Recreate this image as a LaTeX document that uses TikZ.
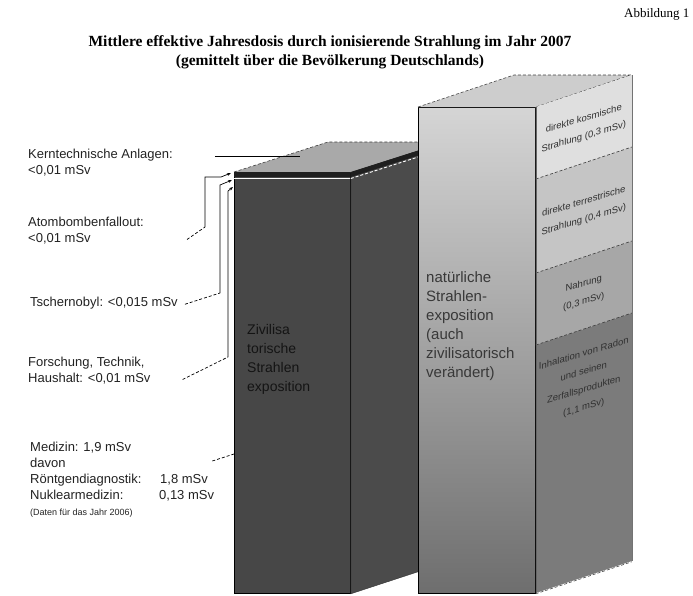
\documentclass[tikz,border=0pt]{standalone}
\usepackage{fontspec}
\setmainfont{Liberation Serif}
\setsansfont{Liberation Sans}
\usetikzlibrary{arrows.meta, positioning}

\definecolor{zivilfront}{HTML}{474747}
\definecolor{zivilside}{HTML}{4B4B4B}
\definecolor{ziviltop}{HTML}{A9A9A9}
\definecolor{naturtop}{HTML}{CDCDCD}
\definecolor{naturhigh}{HTML}{D5D5D5}
\definecolor{naturlow}{HTML}{6E6E6E}
\definecolor{bandA}{HTML}{DFDFDF}
\definecolor{bandB}{HTML}{C5C5C5}
\definecolor{bandC}{HTML}{A7A7A7}
\definecolor{bandD}{HTML}{7B7B7B}
\definecolor{labelgray}{HTML}{222222}
\definecolor{bandtext}{HTML}{303030}

\begin{document}
\begin{tikzpicture}[
    x=1pt, y=-1pt,
    lbl/.style={anchor=north west, inner sep=0pt, align=left, text=labelgray,
        font=\sffamily\fontsize{13}{16}\selectfont},
    leader/.style={densely dashed, line width=0.7pt},
    pointer/.style={line width=0.7pt, -{Stealth[length=4pt,width=3pt]}},
    rim/.style={densely dashed, line width=0.6pt, draw=black!75},
    band/.style={inner sep=0pt, align=center, yslant=0.3, text=bandtext,
        font=\sffamily\fontsize{9.5}{18}\selectfont},
    block/.style={anchor=north west, inner sep=0pt, draw=black, line width=0.8pt}
    ]
    \useasboundingbox (0,0) rectangle (693,595);

    % Title
    \node[font=\bfseries\fontsize{15.5}{19}\selectfont, align=center] (title) at (330,52)
        {Mittlere effektive Jahresdosis durch ionisierende Strahlung im Jahr 2007\\
         (gemittelt über die Bevölkerung Deutschlands)};
    \node[anchor=east, font=\fontsize{13}{15}\selectfont] (fig) at (693,14) {Abbildung 1};

    % Zivilisatorische Strahlenexposition
    \node[block, fill=zivilfront, minimum width=116pt, minimum height=421pt] (zivil) at (234,172) {};
    \filldraw[fill=zivilside, draw=black!80, line width=0.4pt]
        (zivil.north east) -- ++(94,-30) -- ++(0,421) -- (zivil.south east) -- cycle;
    \fill[ziviltop] (zivil.north west) -- ++(94,-30) -- ++(116,0) -- (zivil.north east) -- cycle;
    \draw[rim] (zivil.north west) -- ++(94,-30) -- ++(116,0);
    % thin layers on top
    \fill[black!88] (zivil.north west) rectangle ++(116,5);
    \fill[black!88] (zivil.north east) -- ++(94,-30) -- ++(0,5) -- ++(-94,30) -- cycle;
    \draw[white, line width=0.9pt] (zivil.north west) ++(0,6.5) -- ++(116,0);
    \draw[white, densely dashed, line width=0.9pt] (zivil.north east) ++(0,6.5) -- ++(94,-30);
    \node[anchor=north west, inner sep=0pt, align=left, text=black!92,
        font=\sffamily\fontsize{14}{19}\selectfont] (ziviltext)
        at ([shift={(13,152)}]zivil.north west) {Zivilisa\\torische\\Strahlen\\exposition};

    % Natuerliche Strahlenexposition
    \node[block, top color=naturhigh, bottom color=naturlow,
        minimum width=117pt, minimum height=486pt] (natur) at (418,107) {};
    \fill[naturtop] (natur.north west) -- ++(96,-32) -- ++(117,0) -- (natur.north east) -- cycle;
    \draw[rim] (natur.north west) -- ++(96,-32) -- ++(117,0) -- (natur.north east);
    \foreach \a/\b/\c in {0/72/bandA, 72/166/bandB, 166/238/bandC, 238/486/bandD}
        \fill[\c] (natur.north east) ++(0,\a) -- ++(96,-32) -- ++(0,{\b-\a}) -- ++(-96,32) -- cycle;
    \foreach \a in {72,166,238}
        \draw[rim] (natur.north east) ++(0,\a) -- ++(96,-32);
    \draw[black!55, line width=0.6pt] (natur.north east) ++(96,-32) -- ++(0,486);
    \draw[rim] (natur.south east) -- ++(96,-32);
    \draw[black!60, line width=0.5pt] (natur.north east) -- (natur.south east);
    \node[anchor=north west, inner sep=0pt, align=left, text=black!78,
        font=\sffamily\fontsize{15}{19}\selectfont] (naturtext)
        at ([shift={(8,164)}]natur.north west)
        {natürliche\\Strahlen-\\exposition\\(auch\\zivilisatorisch\\verändert)};

    % Labels on the side face
    \node[band] (kosm) at ([shift={(48,21)}]natur.north east) {direkte kosmische\\Strahlung (0,3 mSv)};
    \node[band] (terr) at ([shift={(48,104)}]natur.north east) {direkte terrestrische\\Strahlung (0,4 mSv)};
    \node[band] (nahr) at ([shift={(48,186)}]natur.north east) {Nahrung\\(0,3 mSv)};
    \node[band] (radon) at ([shift={(48,274)}]natur.north east)
        {Inhalation von Radon\\und seinen\\Zerfallsprodukten\\(1,1 mSv)};

    % Labels on the left
    \node[lbl] (kern) at (28,149) {Kerntechnische Anlagen:\\<0,01 mSv};
    \node[lbl] (atom) at (28,217) {Atombombenfallout:\\<0,01 mSv};
    \node[lbl] (tscherno) at (30,297) {Tschernobyl: <0,015 mSv};
    \node[lbl] (forsch) at (28,357) {Forschung, Technik,\\Haushalt: <0,01 mSv};
    \node[lbl] (medizin) at (30,442) {Medizin: 1,9 mSv\\davon\\
        \makebox[130pt][l]{Röntgendiagnostik:}1,8 mSv\\
        \makebox[129pt][l]{Nuklearmedizin:}0,13 mSv\\
        {\fontsize{9}{12}\selectfont(Daten für das Jahr 2006)}};

    % Leader lines
    \coordinate (kernEnd) at (300,156);
    \coordinate (atomKnee) at (205,227);
    \coordinate (atomTip) at (231,173);
    \coordinate (tschernoKnee) at (220,293);
    \coordinate (tschernoTip) at (232,180);
    \coordinate (forschKnee) at (228,357);
    \coordinate (forschTip) at (233,187);
    \coordinate (medizinEnd) at (234,454);

    \draw[line width=0.7pt] (kern.north east) ++(42,7) -- (kernEnd);
    \draw[leader] (atom.south east) ++(43,-5) -- (atomKnee);
    \draw[pointer] (atomKnee) -- ++(0,-50) -- ++(16,0) -- (atomTip);
    \draw[leader] (tscherno.east) ++(7,1) -- (tschernoKnee);
    \draw[pointer] (tschernoKnee) -- ++(0,-108) -- (tschernoTip);
    \draw[leader] (forsch.south east) ++(32,-5) -- (forschKnee);
    \draw[pointer] (forschKnee) -- ++(0,-166) -- (forschTip);
    \draw[leader] (medizin.north east) ++(-2,19) -- (medizinEnd);
\end{tikzpicture}
\end{document}
